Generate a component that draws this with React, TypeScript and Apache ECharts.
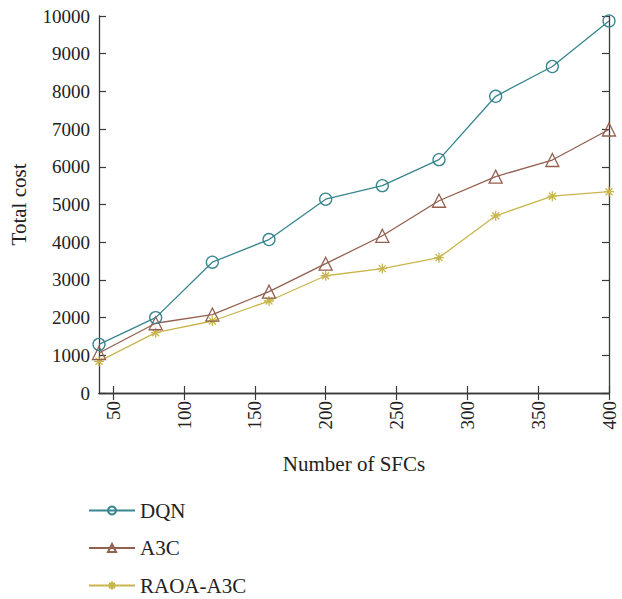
import React, { useEffect, useRef } from "react";
import * as echarts from "echarts";

const sfcCounts = [40, 80, 120, 160, 200, 240, 280, 320, 360, 400];
const dqnCost = [1290, 2000, 3470, 4070, 5140, 5500, 6190, 7870, 8660, 9870];
const a3cCost = [1060, 1850, 2080, 2690, 3430, 4170, 5100, 5740, 6180, 6990];
const raoaCost = [840, 1600, 1910, 2440, 3110, 3300, 3590, 4700, 5220, 5340];
const xTicks = [50, 100, 150, 200, 250, 300, 350, 400];
const seriesNames = ["DQN", "A3C", "RAOA-A3C"];

const FONT = "Liberation Serif";
const AXIS_COLOR = "#3a3a3a";
const TEXT_COLOR = "#222222";
// eight-armed asterisk marker
const ASTERISK = "path://M5,0L5,10M0,5L10,5M1.5,1.5L8.5,8.5M8.5,1.5L1.5,8.5";

const pairs = (ys: number[]) => sfcCounts.map((x, i) => [x, ys[i]]);

const tickRich = { t: { fontFamily: FONT, fontSize: 19, color: TEXT_COLOR } };
const legendRich = { t: { fontFamily: FONT, fontSize: 21, color: TEXT_COLOR, lineHeight: 22 } };

export default function App() {
  const ref = useRef<HTMLDivElement>(null);

  useEffect(() => {
    if (!ref.current) return;
    const chart = echarts.init(ref.current, undefined, { renderer: "svg" });

    const axisLine = { show: true, lineStyle: { color: AXIS_COLOR, width: 1.3 } };
    const innerTick = { show: true, inside: true, length: 7, lineStyle: { color: AXIS_COLOR, width: 1.2 } };

    chart.setOption({
      animation: false,
      backgroundColor: "#ffffff",
      textStyle: { fontFamily: FONT },
      grid: { left: 89, right: 13, top: 16, bottom: 206 },
      legend: seriesNames.map((name, i) => ({
        orient: "vertical",
        left: 88,
        top: 500 + i * 37.5,
        padding: 0,
        itemWidth: 46,
        itemHeight: 10,
        formatter: (n: string) => `{t|${n}}`,
        textStyle: { fontFamily: FONT, fontSize: 21, color: TEXT_COLOR, rich: legendRich },
        data: [name],
      })),
      xAxis: [
        {
          type: "value",
          min: 40,
          max: 400,
          name: "Number of SFCs",
          nameLocation: "middle",
          nameGap: 60,
          nameTextStyle: { fontFamily: FONT, fontSize: 21, color: TEXT_COLOR },
          axisLine,
          axisTick: { ...innerTick, customValues: xTicks },
          axisLabel: {
            fontFamily: FONT,
            fontSize: 19,
            color: TEXT_COLOR,
            customValues: xTicks,
            rotate: 90,
            margin: 8,
            formatter: (v: number) => `{t|${v}}`,
            rich: tickRich,
          },
          splitLine: { show: false },
        },
        {
          type: "value",
          position: "top",
          min: 40,
          max: 400,
          axisLine,
          axisTick: { ...innerTick, customValues: xTicks },
          axisLabel: { show: false },
          splitLine: { show: false },
        },
      ],
      yAxis: [
        {
          type: "value",
          min: 0,
          max: 10000,
          interval: 1000,
          name: "Total cost",
          nameLocation: "middle",
          nameGap: 70,
          nameTextStyle: { fontFamily: FONT, fontSize: 21, color: TEXT_COLOR },
          axisLine,
          axisTick: innerTick,
          axisLabel: {
            fontFamily: FONT,
            fontSize: 19,
            color: TEXT_COLOR,
            margin: 9,
            formatter: (v: number) => `{t|${v}}`,
            rich: tickRich,
          },
          splitLine: { show: false },
        },
        {
          type: "value",
          position: "right",
          min: 0,
          max: 10000,
          interval: 1000,
          axisLine,
          axisTick: innerTick,
          axisLabel: { show: false },
          splitLine: { show: false },
        },
      ],
      series: [
        {
          name: "DQN",
          type: "line",
          data: pairs(dqnCost),
          symbol: "circle",
          symbolSize: 12,
          lineStyle: { color: "#37858f", width: 1.3 },
          itemStyle: { color: "rgba(255,255,255,0)", borderColor: "#37858f", borderWidth: 1.3 },
          z: 3,
        },
        {
          name: "A3C",
          type: "line",
          data: pairs(a3cCost),
          symbol: "triangle",
          symbolSize: 13,
          lineStyle: { color: "#93604f", width: 1.3 },
          itemStyle: { color: "rgba(255,255,255,0)", borderColor: "#93604f", borderWidth: 1.3 },
          z: 2,
        },
        {
          name: "RAOA-A3C",
          type: "line",
          data: pairs(raoaCost),
          symbol: ASTERISK,
          symbolSize: 10,
          lineStyle: { color: "#c8b64c", width: 1.3 },
          itemStyle: { color: "rgba(255,255,255,0)", borderColor: "#c8b64c", borderWidth: 1.3 },
          z: 1,
        },
      ],
    });

    return () => chart.dispose();
  }, []);

  return (
    <div style={{ position: "fixed", left: 0, top: 0, width: 622 }}>
      <div ref={ref} style={{ width: 622, height: 599 }} />
    </div>
  );
}
